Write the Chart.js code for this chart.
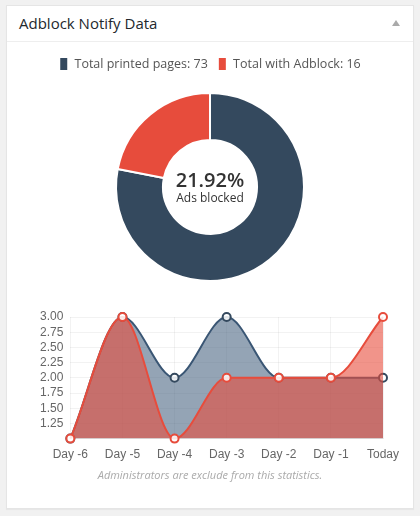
<!DOCTYPE html>
<html>
<head>
<meta charset="utf-8">
<script src="https://cdn.jsdelivr.net/npm/chart.js@4"></script>
<style>
  body { margin: 0; background: #f1f1f1; font-family: "Open Sans", sans-serif; }
  #panel {
    position: absolute; left: 6px; top: 5px; width: 406px; height: 502px;
    background: #fff; border: 1px solid #e5e5e5; box-shadow: 0 1px 1px rgba(0,0,0,.04);
  }
  #head {
    position: absolute; left: 0; top: 0; right: 0; height: 35px;
    border-bottom: 1px solid #eee;
  }
  #head h2 {
    margin: 0; position: absolute; left: 12px; top: 7px;
    font-size: 15px; font-weight: 400; color: #23282d; line-height: 20px;
  }
  #toggle {
    position: absolute; right: 13px; top: 14px; width: 0; height: 0;
    border-left: 4px solid transparent; border-right: 4px solid transparent;
    border-bottom: 6px solid #aaa;
  }
  #pieBox { position: absolute; left: 0; top: 41px; width: 406px; height: 246px; }
  #lineBox { position: absolute; left: -6px; top: 295px; width: 420px; height: 170px; }
  #note {
    position: absolute; left: 0; right: 0; top: 461px; text-align: center;
    font-size: 11px; font-style: italic; color: #aaa;
  }
</style>
</head>
<body>
<div id="panel">
  <div id="head"><h2>Adblock Notify Data</h2><div id="toggle"></div></div>
  <div id="pieBox"><canvas id="pieChart"></canvas></div>
  <div id="lineBox"><canvas id="lineChart"></canvas></div>
  <div id="note">Administrators are exclude from this statistics.</div>
</div>
<script>
// doughnut data
const pieCategories = ['Total printed pages', 'Total with Adblock'];
const pieTotals = [73, 16];
const pieSlices = [57, 16];
const pieColors = ['#34495e', '#e74c3c'];
const centerValue = '21.92%';
const centerLabel = 'Ads blocked';

// line chart data
const days = ['Day -6', 'Day -5', 'Day -4', 'Day -3', 'Day -2', 'Day -1', 'Today'];
const printedSeries = [1, 3, 2, 3, 2, 2, 2];
const adblockSeries = [1, 3, 1, 2, 2, 2, 3];

const centerText = {
    id: 'centerText',
    afterDraw(chart) {
        const ctx = chart.ctx;
        const meta = chart.getDatasetMeta(0).data[0];
        const x = meta.x, y = meta.y;
        ctx.save();
        ctx.fillStyle = '#333';
        ctx.textAlign = 'center';
        ctx.textBaseline = 'middle';
        ctx.font = '600 20px "Open Sans"';
        ctx.fillText(centerValue, x, y - 6);
        ctx.font = '12px "Open Sans"';
        ctx.fillText(centerLabel, x, y + 12);
        ctx.restore();
    }
};

new Chart(document.getElementById('pieChart'), {
    type: 'doughnut',
    data: {
        labels: pieCategories.map((c, i) => c + ': ' + pieTotals[i]),
        datasets: [{
            data: pieSlices,
            backgroundColor: pieColors,
            borderColor: '#fff',
            borderWidth: 2,
            cutout: '50%',
            radius: 94
        }]
    },
    options: {
        responsive: true,
        maintainAspectRatio: false,
        animation: false,
        plugins: {
            tooltip: { enabled: false },
            legend: {
                labels: {
                    boxWidth: 9,
                    boxHeight: 14,
                    padding: 10,
                    color: '#555',
                    font: { family: 'Open Sans', size: 12.5 }
                }
            }
        }
    },
    plugins: [centerText]
});

new Chart(document.getElementById('lineChart'), {
    type: 'line',
    data: {
        labels: days,
        datasets: [{
            label: 'Total with Adblock',
            data: adblockSeries,
            borderColor: '#e74c3c',
            backgroundColor: 'rgba(231,76,60,0.6)',
            pointBackgroundColor: 'rgba(255,255,255,0.85)',
            pointBorderColor: '#e74c3c',
            fill: 'start',
            clip: false,
            order: 0
        }, {
            label: 'Total printed pages',
            data: printedSeries,
            borderColor: '#3a5674',
            backgroundColor: 'rgba(60,90,120,0.55)',
            pointBackgroundColor: 'rgba(255,255,255,0.85)',
            pointBorderColor: '#34495e',
            fill: 'start',
            clip: false,
            order: 1
        }]
    },
    options: {
        responsive: true,
        maintainAspectRatio: false,
        animation: false,
        elements: {
            line: { cubicInterpolationMode: 'monotone', borderWidth: 2 },
            point: { radius: 4, borderWidth: 2 }
        },
        layout: { padding: { left: 32, right: 38, top: 16, bottom: 0 } },
        scales: {
            x: {
                grid: { color: 'rgba(0,0,0,0.05)', drawTicks: false },
                border: { color: 'rgba(0,0,0,0.08)' },
                ticks: {
                    padding: 9, color: '#666',
                    font: { family: 'Liberation Sans', size: 12 }
                }
            },
            y: {
                min: 1,
                max: 3,
                grid: { color: 'rgba(0,0,0,0.05)', drawTicks: false },
                border: { display: false },
                ticks: {
                    stepSize: 0.25,
                    autoSkip: false,
                    padding: 7,
                    color: '#666',
                    font: { family: 'Liberation Sans', size: 12 },
                    callback: v => v === 1 ? '' : v.toFixed(2)
                }
            }
        },
        plugins: {
            legend: { display: false },
            tooltip: { enabled: false }
        }
    }
});
</script>
</body>
</html>
